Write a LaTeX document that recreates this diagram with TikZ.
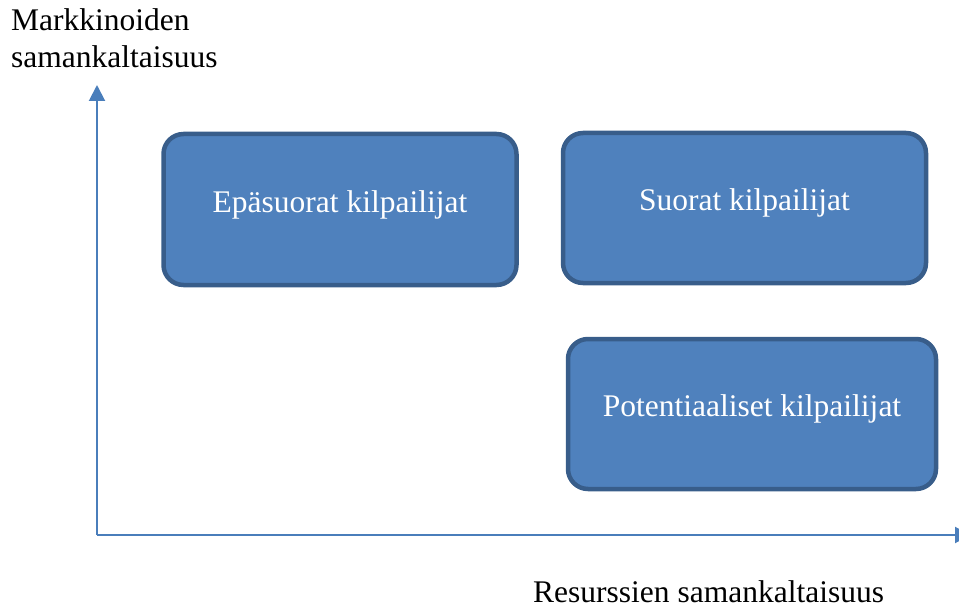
\documentclass[tikz,border=0pt]{standalone}
\usepackage{fontspec}
\setmainfont{Liberation Serif}
\usetikzlibrary{arrows.meta}
\definecolor{boxfill}{HTML}{4F81BD}
\definecolor{boxline}{HTML}{385D8A}
\definecolor{axisline}{HTML}{4A7EBB}
\tikzset{
  kilpailija/.style={draw=boxline, line width=4.5pt, fill=boxfill, rounded corners=20pt,
    text=white, font=\fontsize{31.5}{37}\selectfont, inner sep=0pt,
    text height=14pt, text depth=9pt},
  akseli/.style={axisline, line width=2pt, -{Triangle[length=16pt,width=16pt]}},
  otsikko/.style={font=\fontsize{31.5}{37}\selectfont, inner sep=0pt}
}
\begin{document}
\begin{tikzpicture}[x=1pt,y=-1pt]
  \clip (0,0) rectangle (959,607);

  % akselit
  \coordinate (origo) at (97,535);
  \coordinate (ylos) at (97,85);
  \coordinate (oikea) at (971,535);
  \draw[akseli] (origo) -- (ylos);
  \draw[akseli] (origo) -- (oikea);

  \node[otsikko, anchor=base west, align=left] (markkinat) at (11,68) {Markkinoiden\\samankaltaisuus};
  \node[otsikko, anchor=base west, text depth=0pt] (resurssit) at (533,602) {Resurssien samankaltaisuus};

  % kilpailijat
  \node[kilpailija, minimum width=353pt, minimum height=151pt] (epasuorat) at (340,209.5) {Epäsuorat kilpailijat};
  \node[kilpailija, minimum width=363pt, minimum height=150pt] (suorat) at (744.5,208) {Suorat kilpailijat};
  \node[kilpailija, minimum width=368pt, minimum height=150pt] (potentiaaliset) at (752,414) {Potentiaaliset kilpailijat};
\end{tikzpicture}
\end{document}
